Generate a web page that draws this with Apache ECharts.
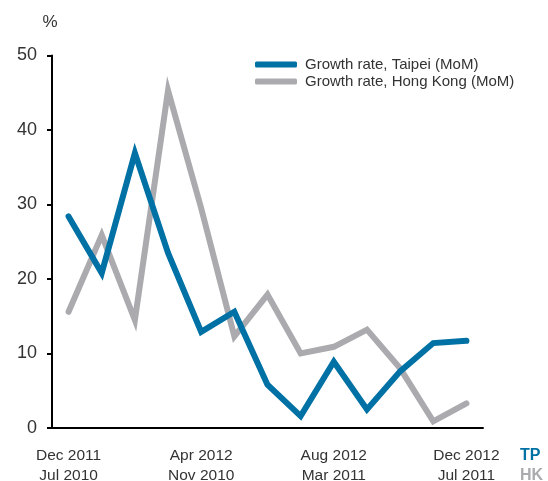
<!DOCTYPE html>
<html><head><meta charset="utf-8">
<script src="https://cdn.jsdelivr.net/npm/echarts@6/dist/echarts.min.js"></script>
<style>html,body{margin:0;padding:0;background:#fff}#c{width:548px;height:481px}</style>
</head><body><div id="c"></div>
<script>
const tpMonths = ['Dec 2011','Jan 2012','Feb 2012','Mar 2012','Apr 2012','May 2012','Jun 2012','Jul 2012','Aug 2012','Sep 2012','Oct 2012','Nov 2012','Dec 2012'];
const hkMonths = ['Jul 2010','Aug 2010','Sep 2010','Oct 2010','Nov 2010','Dec 2010','Jan 2011','Feb 2011','Mar 2011','Apr 2011','May 2011','Jun 2011','Jul 2011'];
const taipei = [28.4, 20.8, 36.9, 23.5, 12.9, 15.6, 5.8, 1.6, 8.9, 2.5, 7.6, 11.4, 11.7];
const hongKong = [15.6, 25.9, 14.5, 45.3, 29.5, 12.3, 17.9, 10.0, 10.9, 13.2, 8.0, 0.9, 3.3];
const yTicks = [0, 10, 20, 30, 40, 50];
const seriesNames = ['Growth rate, Taipei (MoM)', 'Growth rate, Hong Kong (MoM)'];

const FONT = 'Liberation Sans';
const BLUE = '#0071A4';
const GRAY = '#ABABAF';
const chart = echarts.init(document.getElementById('c'), null, {renderer: 'canvas'});
chart.setOption({
  animation: false,
  grid: {left: 52, right: 65, top: 55.5, bottom: 53, containLabel: false, outerBoundsMode: 'none'},
  legend: {
    orient: 'vertical', left: 250, top: 52, itemGap: 2,
    itemWidth: 42, itemHeight: 6, icon: 'roundRect',
    textStyle: {fontFamily: FONT, fontSize: 15, color: '#333', padding: [0, 0, 0, 3]},
    data: seriesNames
  },
  xAxis: {
    type: 'category', data: tpMonths.map((m, i) => i), boundaryGap: true,
    axisLine: {lineStyle: {color: '#000', width: 2}},
    axisTick: {show: false},
    axisLabel: {
      interval: (i) => i % 4 === 0, margin: 18,
      fontFamily: FONT, fontSize: 15.5, color: '#333', lineHeight: 20,
      formatter: (v, i) => tpMonths[i] + '\n' + hkMonths[i]
    }
  },
  yAxis: {
    type: 'value', min: yTicks[0], max: yTicks[yTicks.length - 1], interval: 10,
    name: '%', nameLocation: 'end', nameGap: 25,
    nameTextStyle: {fontFamily: FONT, fontSize: 17, color: '#333', padding: [0, 4, 0, 0]},
    axisLine: {show: true, lineStyle: {color: '#000', width: 2}},
    axisTick: {show: true, length: 5, lineStyle: {color: '#000', width: 2}},
    splitLine: {show: false},
    axisLabel: {fontFamily: FONT, fontSize: 18, color: '#333', margin: 15}
  },
  series: [
    {name: seriesNames[0], type: 'line', data: taipei, showSymbol: false, symbol: 'none',
     lineStyle: {color: BLUE, width: 6, cap: 'round', join: 'miter'}, itemStyle: {color: BLUE}, z: 3},
    {name: seriesNames[1], type: 'line', data: hongKong, showSymbol: false, symbol: 'none',
     lineStyle: {color: GRAY, width: 6, cap: 'round', join: 'miter'}, itemStyle: {color: GRAY}, z: 2}
  ],
  graphic: [
    {type: 'text', left: 520, top: 448, style: {text: 'TP', fontFamily: FONT, fontSize: 16, fontWeight: 'bold', fill: BLUE}},
    {type: 'text', left: 520, top: 468, style: {text: 'HK', fontFamily: FONT, fontSize: 16, fontWeight: 'bold', fill: GRAY}}
  ]
});
</script></body></html>
